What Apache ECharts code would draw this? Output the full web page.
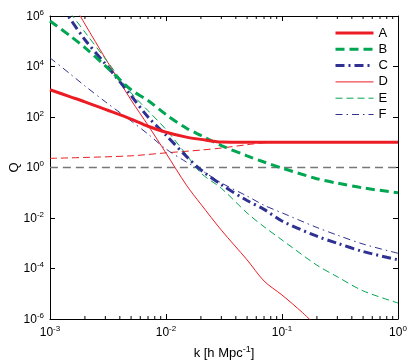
<!DOCTYPE html>
<html>
<head>
<meta charset="utf-8">
<script src="https://cdn.jsdelivr.net/npm/echarts@6/dist/echarts.min.js"></script>
<style>
  html, body { margin: 0; padding: 0; background: #fff; }
  #main { width: 413px; height: 362px; }
</style>
</head>
<body>
<div id="main"></div>
<script>
// values (k in h/Mpc, Q)
var kGrid = [0.001, 0.0015, 0.002, 0.003, 0.005, 0.007, 0.01, 0.015, 0.02, 0.03, 0.05, 0.07, 0.1, 0.2, 0.3, 0.5, 1];
var qA = [1200, 630, 400, 200, 83, 43, 25, 16, 13, 10.2, 10, 10, 10, 10, 10, 10, 10];
var qB = [6.3e5, 1.6e5, 5.6e4, 1.05e4, 1200, 450, 125, 36, 18.6, 7.4, 2.9, 1.65, 0.95, 0.36, 0.24, 0.155, 0.10];
var qC = [1e7, 7.4e5, 1.15e5, 1.26e4, 700, 100, 19, 2.75, 0.8, 0.21, 0.049, 0.022, 7.6e-3, 1.9e-3, 1.0e-3, 4.7e-4, 2.2e-4];
var qE = [1.5e7, 1.3e6, 2.3e5, 2e4, 900, 178, 32, 3.2, 0.6, 0.15, 0.0158, 4.5e-3, 1.35e-3, 1.35e-4, 4.7e-5, 1.3e-5, 4.3e-6];
var qF = [2.2e4, 5000, 1700, 400, 70, 21, 5.4, 1.65, 0.8, 0.245, 0.074, 0.032, 0.016, 4.2e-3, 2.1e-3, 9.3e-4, 4e-4];

var kD = [0.0015, 0.002, 0.003, 0.005, 0.007, 0.01, 0.015, 0.02, 0.03, 0.05, 0.07, 0.1, 0.15, 0.2];
var qD = [4.7e6, 4.8e5, 2.1e4, 470, 47, 3.7, 0.2, 0.035, 3.3e-3, 2.2e-4, 3.2e-5, 8.9e-6, 1.8e-6, 5e-7];

// thin red dashed curve (not in legend)
var kG = [0.001, 0.002, 0.005, 0.01, 0.02, 0.03, 0.05, 0.07, 0.1, 1];
var qG = [2.3, 2.5, 2.9, 3.8, 4.9, 5.9, 8, 9.5, 10, 10];

// grey reference line at Q = 1
var kRef = [0.001, 1];
var qRef = [1, 1];

var xTickExp = [-3, -2, -1, 0];
var yTickExp = [-6, -4, -2, 0, 2, 4, 6];

var FONT = 'Liberation Sans, Arial, Helvetica, sans-serif';
var RED = '#ec1c24', GREEN = '#00a651', BLUE = '#2e3192', GREY = '#777777';

// minor tick positions on the log k axis (2..9 x 10^n)
var minorK = [];
for (var n = -3; n < 0; n++) {
  for (var m = 2; m <= 9; m++) minorK.push(m * Math.pow(10, n));
}

function pairs(k, q) {
  return k.map(function (v, i) { return [Math.log10(v), Math.log10(q[i])]; });
}

function line(name, k, q, color, width, dash) {
  return {
    name: name,
    type: 'line',
    data: pairs(k, q),
    showSymbol: false,
    symbol: 'none',
    smooth: 0.3,
    clip: true,
    lineStyle: { color: color, width: width, type: dash || 'solid' },
    itemStyle: { color: color },
    emphasis: { disabled: true },
    animation: false
  };
}

var supRich = {
  b: { fontSize: 12, lineHeight: 13, verticalAlign: 'bottom', color: '#000', fontFamily: FONT },
  e: { fontSize: 8, lineHeight: 9, padding: [0, 0, 6, 0], verticalAlign: 'bottom', color: '#000', fontFamily: FONT }
};
function powLabel(v) { return '{b|10}{e|' + Math.round(v) + '}'; }

var xMin = xTickExp[0], xMax = xTickExp[xTickExp.length - 1];
var yMin = yTickExp[0], yMax = yTickExp[yTickExp.length - 1];

function xAxisCfg(pos, labels) {
  return {
    type: 'value', position: pos, min: xMin, max: xMax, interval: 1,
    axisLine: { show: true, onZero: false, lineStyle: { color: '#000', width: 1 } },
    axisTick: { show: true, inside: true, length: 5, lineStyle: { color: '#000' } },
    axisLabel: { show: labels, margin: 7, formatter: powLabel, rich: supRich },
    splitLine: { show: false }
  };
}
function yAxisCfg(pos, labels) {
  return {
    type: 'value', position: pos, min: yMin, max: yMax, interval: 2,
    axisLine: { show: true, onZero: false, lineStyle: { color: '#000', width: 1 } },
    axisTick: { show: true, inside: true, length: 5, lineStyle: { color: '#000' } },
    axisLabel: { show: labels, margin: 6, formatter: powLabel, rich: supRich },
    splitLine: { show: false }
  };
}

var xBottom = xAxisCfg('bottom', true);
xBottom.name = '{n|k [h Mpc}{s|-1}{n|]}';
xBottom.nameLocation = 'middle';
xBottom.nameGap = 27;
xBottom.nameTextStyle = {
  rich: {
    n: { fontSize: 13, lineHeight: 14, verticalAlign: 'bottom', color: '#000', fontFamily: FONT },
    s: { fontSize: 9, lineHeight: 10, padding: [0, 0, 6, 0], verticalAlign: 'bottom', color: '#000', fontFamily: FONT }
  }
};
var xTop = xAxisCfg('top', false);

var yLeft = yAxisCfg('left', true);
yLeft.name = 'Q';
yLeft.nameLocation = 'middle';
yLeft.nameGap = 29;
yLeft.nameMoveOverlap = false;
yLeft.nameRotate = 90;
yLeft.nameTextStyle = { fontSize: 13, color: '#000', fontFamily: FONT };
var yRight = yAxisCfg('right', false);

var chart = echarts.init(document.getElementById('main'), null, { renderer: 'canvas' });
chart.setOption({
  animation: false,
  backgroundColor: '#fff',
  textStyle: { fontFamily: FONT },
  grid: { left: 50, right: 15, top: 16, bottom: 43, containLabel: false, outerBoundsMode: 'none' },
  xAxis: [xBottom, xTop],
  yAxis: [yLeft, yRight],
  legend: {
    data: ['A', 'B', 'C', 'D', 'E', 'F'],
    orient: 'vertical',
    left: 334, top: 26,
    padding: 0,
    itemWidth: 38, itemHeight: 14, itemGap: 2.3,
    itemStyle: { opacity: 0 },
    lineStyle: { width: 'inherit' },
    textStyle: { fontSize: 13, lineHeight: 14, color: '#000', fontFamily: FONT },
    selectedMode: false
  },
  series: [
    line('ref', kRef, qRef, GREY, 1.3, [8, 5]),
    line('G', kG, qG, RED, 1, [7, 4]),
    line('D', kD, qD, RED, 1),
    line('E', kGrid, qE, GREEN, 1, [7, 4]),
    line('F', kGrid, qF, BLUE, 1, [7, 4, 1.5, 4]),
    line('C', kGrid, qC, BLUE, 3, [9, 4, 2, 4]),
    line('B', kGrid, qB, GREEN, 3, [9, 5]),
    line('A', kGrid, qA, RED, 3),
    {
      name: 'minorTicks',
      type: 'custom',
      silent: true,
      clip: false,
      z: 5,
      data: minorK.map(function (k) { return [Math.log10(k), yMin]; }),
      encode: { x: 0, y: 1 },
      renderItem: function (params, api) {
        var x = api.value(0);
        var b = api.coord([x, yMin]);
        var t = api.coord([x, yMax]);
        var st = { stroke: '#000', lineWidth: 1 };
        return {
          type: 'group',
          children: [
            { type: 'line', shape: { x1: b[0], y1: b[1], x2: b[0], y2: b[1] - 3 }, style: st },
            { type: 'line', shape: { x1: t[0], y1: t[1], x2: t[0], y2: t[1] + 3 }, style: st }
          ]
        };
      }
    }
  ]
});
</script>
</body>
</html>
